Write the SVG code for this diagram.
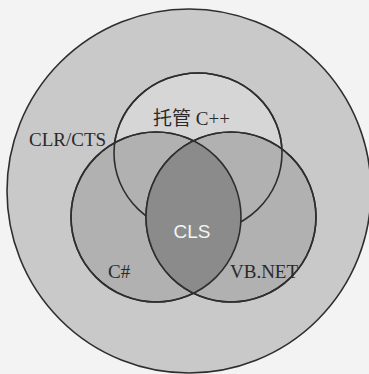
<svg xmlns="http://www.w3.org/2000/svg" width="369" height="374" viewBox="0 0 369 374">
<defs>
<style>
.ln{stroke:#2e2e2e;stroke-width:1.6}
.lbl{font-family:"Liberation Serif","Noto Sans CJK SC",serif;font-size:19px;fill:#2a2a2a}
.cls{font-family:"Liberation Sans",Arial,sans-serif;font-size:19px;fill:#f4f4f4}
</style>
<clipPath id="clipL"><circle cx="156" cy="217" r="85"/></clipPath>
</defs>
<rect width="369" height="374" fill="#f3f3f3"/>
<g id="outer">
<circle cx="189" cy="191" r="182" fill="#c9c9c9" class="ln"/>
<text class="lbl" x="29" y="146">CLR/CTS</text>
</g>
<g id="managed-cpp">
<ellipse cx="198" cy="153" rx="84" ry="80" fill="#d6d6d6" class="ln"/>
<text class="lbl" x="153" y="125">托管 C++</text>
</g>
<g id="csharp">
<circle cx="156" cy="217" r="85" fill="#b1b1b1" class="ln"/>
<text class="lbl" x="108" y="278">C#</text>
</g>
<g id="vbnet">
<circle cx="231" cy="217" r="85" fill="#b1b1b1" class="ln"/>
<text class="lbl" x="230" y="278">VB.NET</text>
</g>
<g id="managed-cpp-outline">
<ellipse cx="198" cy="153" rx="84" ry="80" fill="none" class="ln"/>
</g>
<g id="cls">
<circle cx="231" cy="217" r="85" fill="#8b8b8b" clip-path="url(#clipL)"/>
<circle cx="231" cy="217" r="85" fill="none" class="ln"/>
<circle cx="156" cy="217" r="85" fill="none" class="ln"/>
<text class="cls" x="192" y="238" text-anchor="middle">CLS</text>
</g>
</svg>
